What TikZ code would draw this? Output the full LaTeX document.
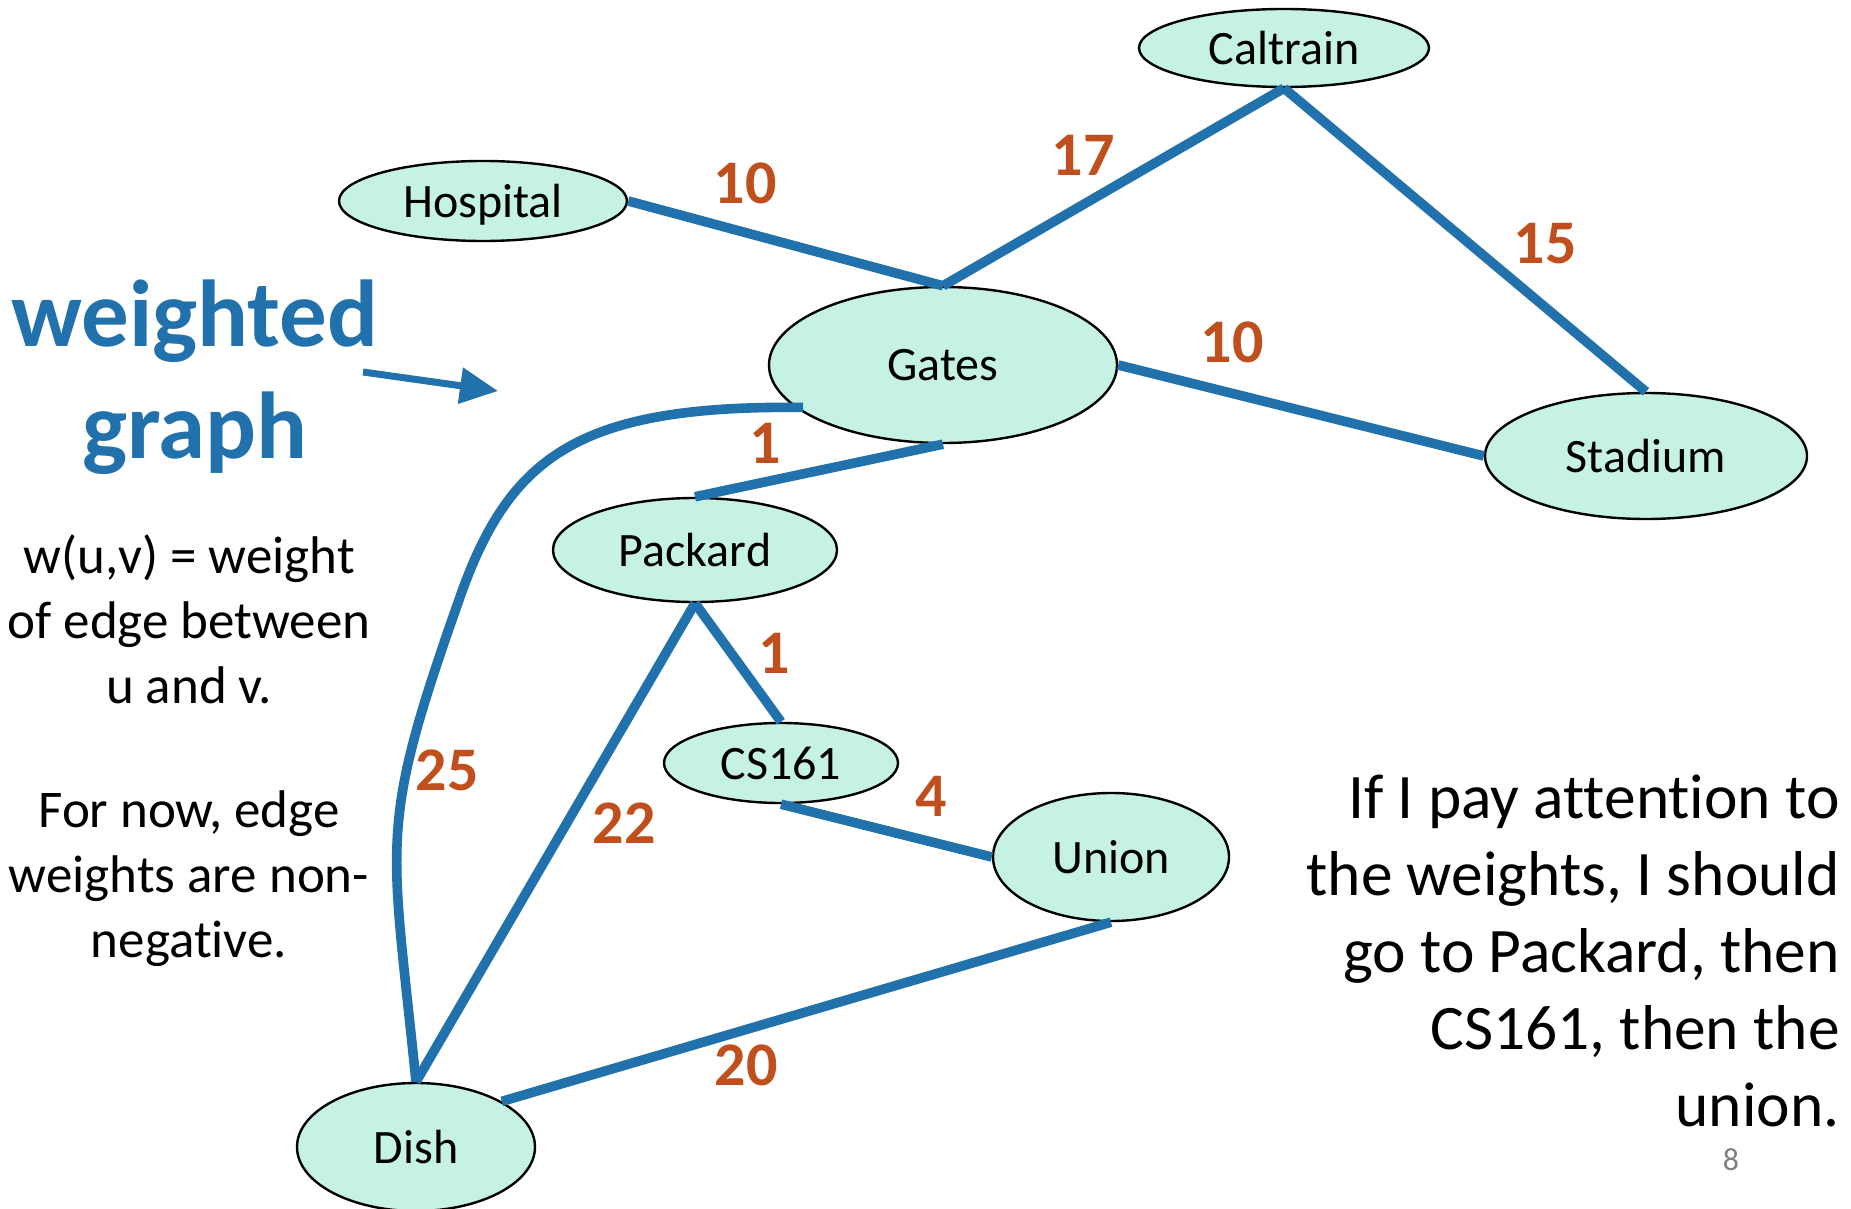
\documentclass[tikz,border=0pt]{standalone}
\usepackage{fontspec}
\setmainfont{Carlito}[Ligatures=NoCommon]
\usepackage{xcolor}
\usetikzlibrary{arrows.meta,shapes.geometric}
\definecolor{edgeblue}{RGB}{33,113,172}
\definecolor{weightorange}{RGB}{191,79,28}
\definecolor{placefill}{RGB}{198,242,228}

\begin{document}
\begin{tikzpicture}[x=0.5pt,y=0.5pt,yscale=-1,
  place/.style={ellipse,draw=black,line width=1.2pt,fill=placefill,inner sep=0pt,text depth=0pt,font=\fontsize{24}{28}\selectfont},
  road/.style={draw=edgeblue,line width=4.8pt},
  weight/.style={text=weightorange,inner sep=0pt,font=\bfseries\fontsize{31}{36}\selectfont}]
\useasboundingbox (0,0) rectangle (1851,1209);

%Shape: Ellipse
\node (caltrain) [place,minimum width=145pt,minimum height=39pt] at (1284,48) {Caltrain};
%Shape: Ellipse
\node (hospital) [place,minimum width=144pt,minimum height=40pt] at (483,201) {Hospital};
%Shape: Ellipse
\node (gates) [place,minimum width=174pt,minimum height=78pt] at (943,365) {Gates};
%Shape: Ellipse
\node (stadium) [place,minimum width=161pt,minimum height=63pt] at (1646,456) {Stadium};
%Shape: Ellipse
\node (packard) [place,minimum width=142pt,minimum height=52pt] at (695,550) {Packard};
%Shape: Ellipse
\node (cs) [place,minimum width=117pt,minimum height=40pt] at (781,763) {CS161};
%Shape: Ellipse
\node (union) [place,minimum width=118pt,minimum height=64pt] at (1111,857) {Union};
%Shape: Ellipse
\node (dish) [place,minimum width=119pt,minimum height=64pt] at (416,1147) {Dish};

%Straight Lines
\draw [road] (hospital.east) -- (gates.north);
\draw [road] (caltrain.south) -- (gates.north);
\draw [road] (caltrain.south) -- (stadium.north);
\draw [road] (gates.east) -- (stadium.west);
\draw [road] (gates.south) -- (packard.north);
\draw [road] (packard.south) -- (cs.north);
\draw [road] (packard.south) -- (dish.north);
\draw [road] (cs.south) -- (union.west);
\draw [road] (union.south) -- (dish.28);
%Curve Lines
\draw [road] ([xshift=4pt]gates.196) .. controls (580,405) and (510,455) .. (460,597) .. controls (377,832) and (391,834) .. (dish.north);

% Text Node
\node (w1) [weight] at (745,183) {10};
\node (w2) [weight] at (1083,155) {17};
\node (w3) [weight] at (1545,244) {15};
\node (w4) [weight] at (1232,342) {10};
\node (w5) [weight] at (765,443) {1};
\node (w6) [weight] at (774,653) {1};
\node (w7) [weight] at (447,770) {25};
\node (w8) [weight] at (624,823) {22};
\node (w9) [weight] at (931,796) {4};
\node (w10) [weight] at (746,1065) {20};

% Text Node
\node (title) [text=edgeblue,align=center,inner sep=0pt,font=\bfseries\fontsize{47.5}{56}\selectfont] at (195,377) {weighted\\graph};
%Straight Lines
\coordinate (arrowstart) at (363,372);
\coordinate (arrowtip) at (498,391);
\draw [edgeblue,line width=3.5pt,-{Triangle[length=19pt,width=17.5pt]}] (arrowstart) -- (arrowtip);

% Text Node
\node (notes) [align=center,inner sep=0pt,font=\fontsize{26.5}{32.5}\selectfont] at (189,751) {w(u,v) = weight\\of edge between\\u and v.\\[29.5pt]For now, edge\\weights are non-\\negative.};
% Text Node
\node (remark) [anchor=east,align=right,inner sep=0pt,font=\fontsize{31.7}{38.5}\selectfont] at (1840,951) {If I pay attention to\\the weights, I should\\go to Packard, then\\CS161, then the\\union.};
% Text Node
\node (pagenum) [text=gray,inner sep=0pt,font=\fontsize{16}{19}\selectfont] at (1731,1160) {8};

\end{tikzpicture}
\end{document}
